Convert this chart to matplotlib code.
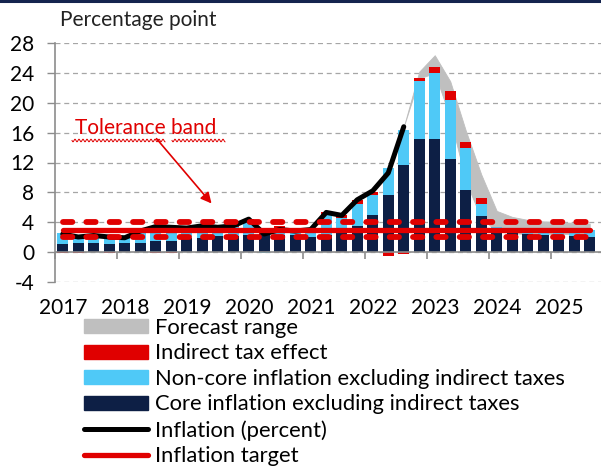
import numpy as np
import matplotlib
matplotlib.use("Agg")
import matplotlib.pyplot as plt
from matplotlib.patches import Patch
from matplotlib.lines import Line2D

plt.rcParams['font.family'] = ['Lato', 'DejaVu Sans']

# ---------------- data ----------------
years = ["2017", "2018", "2019", "2020", "2021", "2022", "2023", "2024", "2025"]
core = [1.1, 1.2, 1.2, 1.1, 1.2, 1.2, 1.4, 1.4, 1.8, 1.9, 2.1, 2.2,
        2.3, 2.4, 2.3, 2.3, 2.0, 2.3, 2.8, 3.5, 5.0, 7.7, 11.6, 15.1,
        15.1, 12.5, 8.3, 4.8, 3.0, 2.6, 2.4, 2.3, 2.2, 2.1, 2.0]
noncore = [1.5, 0.9, 1.1, 1.1, 0.8, 1.4, 2.0, 1.9, 1.2, 1.4, 1.0, 1.1,
           1.9, -0.2, 0.9, 0.3, 0.7, 2.7, 1.8, 2.9, 2.6, 3.5, 4.8, 7.9,
           8.9, 7.9, 5.7, 1.6, 0.3, 0.5, 0.6, 0.6, 0.7, 0.8, 0.9]
taxes = [-0.2, -0.2, 0.1, -0.2, 0.1, 0.1, -0.2, -0.2, 0.2, 0.2, 0.2, 0.2,
         0.2, 0.3, 0.3, 0.3, 0.3, 0.3, 0.3, 0.5, 0.4, -0.5, -0.3, 0.3,
         0.8, 1.2, 0.8, 0.8, 0.1, 0.1, 0.1, 0.1, 0.1, 0.1, 0.1]
inflation = [2.4, 2.0, 2.2, 2.0, 1.9, 2.8, 3.4, 3.3, 3.2, 3.5, 3.3, 3.5,
             4.4, 2.4, 3.0, 2.8, 3.0, 5.3, 4.9, 7.0, 8.2, 10.6, 16.8]
fan_start = 22
fan_low = [16.8, 23.3, 24.0, 18.0, 9.5, 4.5, 2.8, 2.5, 2.4, 2.4, 2.4, 2.4, 2.4]
fan_high = [16.8, 24.2, 26.4, 22.9, 16.3, 10.4, 5.5, 4.7, 4.3, 4.1, 4.0, 3.9, 3.8]
target = 3.0
tol_low, tol_high = 2.0, 4.0

# ---------------- style ----------------
NAVY = "#0d1f45"
LBLUE = "#4fc9f7"
RED = "#e00000"
GRAY = "#bfbfbf"
AXC = "#8c8c8c"
FS = 15
LFS = 15.8

W, H = 601, 470
fig = plt.figure(figsize=(W / 100, H / 100), dpi=100)
ax = fig.add_axes([55 / W, 1 - 281.7 / H, (600.6 - 55) / W, (281.7 - 43.3) / H])

n = len(core)
x = np.arange(n)
core_a = np.array(core); nc_a = np.array(noncore); tx_a = np.array(taxes)

# fan
xf = np.arange(fan_start, fan_start + len(fan_low))
ax.fill_between(xf, fan_low, fan_high, color=GRAY, lw=0.6, edgecolor=GRAY, zorder=1)

# stacked bars with pos/neg stacking
pos_b = np.zeros(n); neg_b = np.zeros(n)
bw = 0.68
for vals, col in ((core_a, NAVY), (nc_a, LBLUE), (tx_a, RED)):
    bottom = np.where(vals >= 0, pos_b, neg_b)
    ax.bar(x, vals, bottom=bottom, width=bw, color=col, lw=0, zorder=2)
    pos_b = pos_b + np.where(vals >= 0, vals, 0)
    neg_b = neg_b + np.where(vals < 0, vals, 0)

# inflation line
xi = np.arange(len(inflation))
infl_line, = ax.plot(xi, inflation, color="black", lw=3.6, solid_joinstyle="round",
                     solid_capstyle="round", zorder=4)

# target & tolerance band
target_line, = ax.plot(x, np.full(n, target), color=RED, lw=3.8, ls="-",
                       solid_capstyle="round", zorder=5)
for v in (tol_low, tol_high):
    ax.plot(x, np.full(n, v), color=RED, lw=4.2, dashes=(1.6, 2.4),
            dash_capstyle="round", zorder=5)

# annotation
ax.text(5.35, 16.6, "Tolerance band", color=RED, fontsize=FS, ha="center", va="center", zorder=6)
ax.annotate("", xy=(9.6, 6.5), xytext=(6.05, 15.2),
            arrowprops=dict(arrowstyle="-|>", color=RED, lw=1.2, mutation_scale=16,
                            shrinkA=0, shrinkB=0), zorder=6)

# axes
ax.set_xlim(-0.5, 34.7)
ax.set_ylim(-4, 28)
ax.set_yticks(np.arange(-4, 29, 4))
ax.set_yticklabels([str(v) for v in range(-4, 29, 4)], fontsize=FS)
ax.yaxis.grid(True, color="#a6a6a6", lw=0.9, ls=(0, (4, 3)))
ax.set_axisbelow(True)
for s in ("top", "right", "bottom"):
    ax.spines[s].set_visible(False)
ax.spines["left"].set_color(AXC)
ax.spines["left"].set_linewidth(1.2)
ax.tick_params(axis="y", direction="out", length=6, width=1, color=AXC, pad=9)

ax.set_xticks(np.arange(0, n, 4))
ax.set_xticklabels(years, fontsize=FS)
ax.tick_params(axis="x", length=0, pad=12)

# zero axis line with year boundary ticks
ax.axhline(0, color=AXC, lw=1.2, zorder=3)
sec = ax.secondary_xaxis(4 / 32)
sec.set_xticks(np.arange(-0.5, n, 4))
sec.tick_params(axis="x", direction="out", length=5, width=1.2, color=AXC, labelbottom=False)
sec.spines["bottom"].set_visible(False)

# squiggle (spell-check underline) under annotation text
def squiggle(x0, x1, y):
    xs = np.linspace(x0, x1, int((x1 - x0) * 3))
    ys = y + 1.3 * np.sin((xs - x0) / 4.0 * 2 * np.pi)
    fig.add_artist(Line2D(xs / W, 1 - ys / H, color=RED, lw=0.7, transform=fig.transFigure))
squiggle(72, 165, 140.5)
squiggle(172, 225, 140.5)

# title
fig.text(60 / W, 1 - 20 / H, "Percentage point", fontsize=FS, ha="left", va="center", color="#222222")

# top border line
fig.add_artist(Line2D([0, 1], [1 - 1.3 / H, 1 - 1.3 / H], color="#14244e", lw=2.2,
                      transform=fig.transFigure))

# legend
handles = [Patch(color=GRAY), Patch(color=RED), Patch(color=LBLUE), Patch(color=NAVY),
           infl_line, target_line]
labels = ["Forecast range", "Indirect tax effect", "Non-core inflation excluding indirect taxes",
          "Core inflation excluding indirect taxes", "Inflation (percent)", "Inflation target"]
fig.legend(handles, labels, loc="upper left", bbox_to_anchor=(84 / W, 1 - 318 / H),
           frameon=False, fontsize=LFS, handlelength=2.9, handleheight=0.58,
           handletextpad=0.33, labelspacing=0.25, borderpad=0, borderaxespad=0)

fig.savefig("out.png", dpi=100)
